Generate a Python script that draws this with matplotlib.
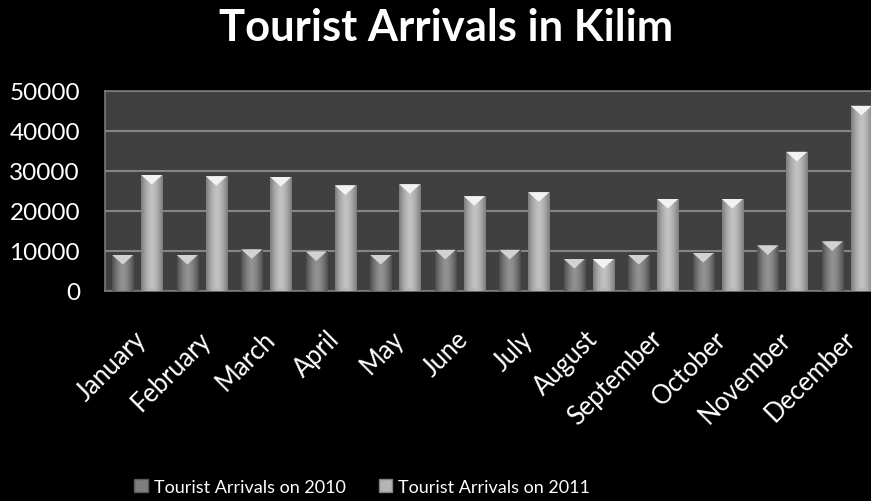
import numpy as np
import matplotlib
matplotlib.use("Agg")
import matplotlib.pyplot as plt
from matplotlib.patches import Polygon, Patch
import matplotlib.transforms as mtransforms

months = ["January", "February", "March", "April", "May", "June", "July",
          "August", "September", "October", "November", "December"]
arrivals_2010 = [9000, 9000, 10400, 9900, 9000, 10300, 10300, 8000, 9000, 9500, 11400, 12400]
arrivals_2011 = [29000, 28700, 28500, 26400, 26700, 23700, 24700, 8000, 23000, 23000, 34800, 46300]
series_names = ["Tourist Arrivals on 2010", "Tourist Arrivals on 2011"]
y_ticks = [0, 10000, 20000, 30000, 40000, 50000]

plt.rcParams['font.family'] = ['Lato', 'DejaVu Sans']

fig = plt.figure(figsize=(8.71, 5.02), dpi=100, facecolor='black')
ax = fig.add_axes([105/871, 210/502, 774/871, 200/502])
ax.set_facecolor('#404040')
for s in ax.spines.values():
    s.set_color('#7a7a7a')
    s.set_linewidth(1.2)

x = np.arange(len(months))
width = 0.326
off = 0.225

def grad_bars(xs, vals, edge, mid, topc, botc):
    bars = ax.bar(xs, vals, width, color='none', zorder=3)
    g = np.linspace(-1, 1, 64)
    w = np.abs(g) ** 1.6
    e = np.array(matplotlib.colors.to_rgb(edge))
    m = np.array(matplotlib.colors.to_rgb(mid))
    cols = (m[None, :] * (1 - w[:, None]) + e[None, :] * w[:, None])[None, :, :]
    tri_h = 2400
    for b in bars:
        x0 = b.get_x()
        bw, bh = b.get_width(), b.get_height()
        im = ax.imshow(cols, extent=(x0, x0 + bw, 0, bh), aspect='auto',
                       zorder=3, interpolation='bilinear')
        im.set_clip_path(b)
        th = min(tri_h, bh * 0.5)
        ax.add_patch(Polygon([(x0, bh), (x0 + bw, bh), (x0 + bw / 2, bh - th)],
                             closed=True, facecolor=topc, edgecolor='none', zorder=4))
        ax.add_patch(Polygon([(x0 + bw * 0.2, 0), (x0 + bw * 0.8, 0), (x0 + bw / 2, th * 0.4)],
                             closed=True, facecolor=botc, edgecolor='none', zorder=4, alpha=0.5))
    return bars

grad_bars(x - off, arrivals_2010, '#4e4e4e', '#929292', '#d2d2d2', '#8a8a8a')
grad_bars(x + off, arrivals_2011, '#7c7c7c', '#c2c2c2', '#f2f2f2', '#b0b0b0')

ax.set_xlim(-0.5, len(months) - 0.5)
ax.set_ylim(0, 50000)
ax.set_yticks(y_ticks)
ax.set_yticklabels([str(v) for v in y_ticks])
ax.yaxis.grid(True, color='#858585', linewidth=1.5, zorder=1)
ax.set_axisbelow(True)
ax.tick_params(axis='y', length=0, pad=18, labelcolor='white', labelsize=17.5)
ax.set_xticks(x)
ax.set_xticklabels(months)
ax.tick_params(axis='x', length=0, pad=25, labelcolor='white', labelsize=18.4)
shift = mtransforms.ScaledTranslation(-4/100, 0, fig.dpi_scale_trans)
for lab in ax.get_xticklabels():
    lab.set_rotation(45)
    lab.set_ha('right')
    lab.set_va('top')
    lab.set_rotation_mode('anchor')
    lab.set_transform(lab.get_transform() + shift)

fig.text(0.512, 0.944, "Tourist Arrivals in Kilim", color='white', fontsize=31.3,
         fontweight='bold', ha='center', va='center')

handles = [Patch(facecolor='#7e7e7e', edgecolor='#5a5a5a'),
           Patch(facecolor='#b5b5b5', edgecolor='#808080')]
leg = fig.legend(handles, series_names, loc='center', bbox_to_anchor=(0.416, 0.028),
                 ncol=2, frameon=False, fontsize=13.0, labelcolor='white',
                 handlelength=0.75, handleheight=0.75, handletextpad=0.35, columnspacing=1.8)

fig.savefig("out.png", dpi=100, facecolor='black')
